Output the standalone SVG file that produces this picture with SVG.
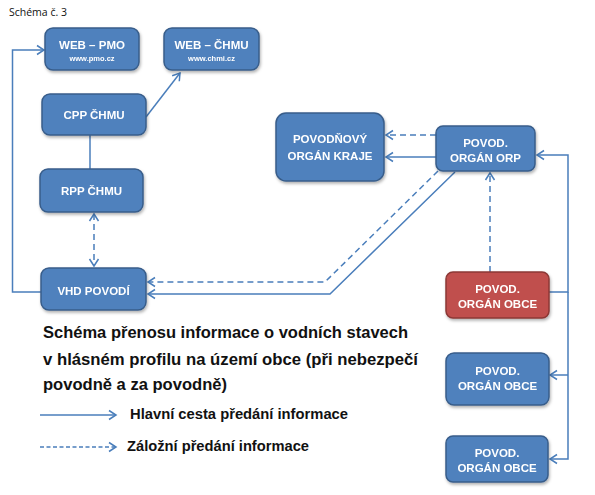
<svg xmlns="http://www.w3.org/2000/svg" width="595" height="495" viewBox="0 0 595 495">
<style>
.box{fill:#4F81BD;stroke:#385D8A;stroke-width:1.5}
.red{fill:#C0504D;stroke:#8C3836;stroke-width:1.5}
.t{font-family:"Liberation Sans",Arial,sans-serif;font-weight:bold;font-size:11.5px;fill:#fff;text-anchor:middle}
.s{font-family:"Liberation Sans",Arial,sans-serif;font-weight:bold;font-size:7.5px;fill:#fff;text-anchor:middle}
.c{fill:none;stroke:#4A7EBB;stroke-width:1.5}
.d{stroke-dasharray:6 4}
.cap{font-family:"Liberation Sans",Arial,sans-serif;font-weight:bold;font-size:16.5px;fill:#111}
.leg{font-family:"Liberation Sans",Arial,sans-serif;font-weight:bold;font-size:14px;fill:#111}
</style>
<defs>
<marker id="ah" markerUnits="userSpaceOnUse" markerWidth="14" markerHeight="14" viewBox="-10 -7 12 14" refX="0" refY="0" orient="auto-start-reverse">
<path d="M-7,-4.5 L0,0 L-7,4.5" fill="none" stroke="#4A7EBB" stroke-width="1.5"/>
</marker>
<filter id="sh" x="-10%" y="-10%" width="130%" height="140%">
<feDropShadow dx="1" dy="2" stdDeviation="1.5" flood-color="#000" flood-opacity="0.3"/>
</filter>
</defs>
<rect width="595" height="495" fill="#fff"/>
<text x="9" y="16" font-family="'Open Sans','Liberation Sans',sans-serif" font-size="10.5" fill="#111">Schéma č. 3</text>

<g id="connectors">
<path class="c" d="M41,292 H12.5 V50 H44" marker-end="url(#ah)"/>
<path class="c" d="M146,117 L180,73" marker-end="url(#ah)"/>
<path class="c" d="M90,135 V169"/>
<path class="c d" d="M94,214 V266" marker-start="url(#ah)" marker-end="url(#ah)"/>
<path class="c d" d="M436,135 H386" marker-end="url(#ah)"/>
<path class="c" d="M436,157 H386" marker-end="url(#ah)"/>
<path class="c d" d="M438,171 L325,282 H148" marker-end="url(#ah)"/>
<path class="c" d="M455,172 L330,294 H148" marker-end="url(#ah)"/>
<path class="c d" d="M490,272 V173" marker-end="url(#ah)"/>
<path class="c" d="M549,292 H568 V155 H537" marker-end="url(#ah)"/>
<path class="c" d="M568,292 V459 H550" marker-end="url(#ah)"/>
<path class="c" d="M568,375 H550" marker-end="url(#ah)"/>
</g>

<g id="web-pmo" filter="url(#sh)"><rect class="box" x="45" y="28" width="94" height="42" rx="8"/>
<text class="t" x="92" y="49">WEB – PMO</text><text class="s" x="92" y="61">www.pmo.cz</text></g>
<g id="web-chmu" filter="url(#sh)"><rect class="box" x="164" y="28" width="95" height="42" rx="8"/>
<text class="t" x="211.5" y="49">WEB – ČHMU</text><text class="s" x="211.5" y="61">www.chmi.cz</text></g>
<g id="cpp" filter="url(#sh)"><rect class="box" x="42" y="94" width="104" height="41" rx="8"/>
<text class="t" x="94" y="119">CPP ČHMU</text></g>
<g id="rpp" filter="url(#sh)"><rect class="box" x="40" y="169" width="103" height="43" rx="8"/>
<text class="t" x="91.5" y="195">RPP ČHMU</text></g>
<g id="vhd" filter="url(#sh)"><rect class="box" x="41" y="268" width="105" height="42" rx="8"/>
<text class="t" x="93.5" y="295">VHD POVODÍ</text></g>
<g id="kraj" filter="url(#sh)"><rect class="box" x="276" y="113" width="108" height="68" rx="10"/>
<text class="t" x="330" y="143">POVODŇOVÝ</text><text class="t" x="330" y="160">ORGÁN KRAJE</text></g>
<g id="orp" filter="url(#sh)"><rect class="box" x="436" y="126" width="99" height="45" rx="7"/>
<text class="t" x="485.5" y="147">POVOD.</text><text class="t" x="485.5" y="162">ORGÁN ORP</text></g>
<g id="obec-red" filter="url(#sh)"><rect class="red" x="446" y="272" width="103" height="46" rx="7"/>
<text class="t" x="497.5" y="293">POVOD.</text><text class="t" x="497.5" y="308">ORGÁN OBCE</text></g>
<g id="obec-2" filter="url(#sh)"><rect class="box" x="446" y="353" width="103" height="52" rx="8"/>
<text class="t" x="497.5" y="375">POVOD.</text><text class="t" x="497.5" y="390">ORGÁN OBCE</text></g>
<g id="obec-3" filter="url(#sh)"><rect class="box" x="446" y="436" width="102" height="46" rx="7"/>
<text class="t" x="497" y="457">POVOD.</text><text class="t" x="497" y="472">ORGÁN OBCE</text></g>

<g id="caption">
<text class="cap" x="43" y="338" textLength="365" lengthAdjust="spacingAndGlyphs">Schéma přenosu informace o vodních stavech</text>
<text class="cap" x="43" y="365" textLength="375" lengthAdjust="spacingAndGlyphs">v hlásném profilu na území obce (při nebezpečí</text>
<text class="cap" x="43" y="390" textLength="184" lengthAdjust="spacingAndGlyphs">povodně a za povodně)</text>
</g>
<g id="legend">
<path class="c" d="M40,415 H116" marker-end="url(#ah)"/>
<text class="leg" x="130" y="419" textLength="218" lengthAdjust="spacingAndGlyphs">Hlavní cesta předání informace</text>
<path class="c" d="M40,447 H116" stroke-dasharray="4 2.5" marker-end="url(#ah)"/>
<text class="leg" x="127" y="451" textLength="182" lengthAdjust="spacingAndGlyphs">Záložní předání informace</text>
</g>
</svg>
